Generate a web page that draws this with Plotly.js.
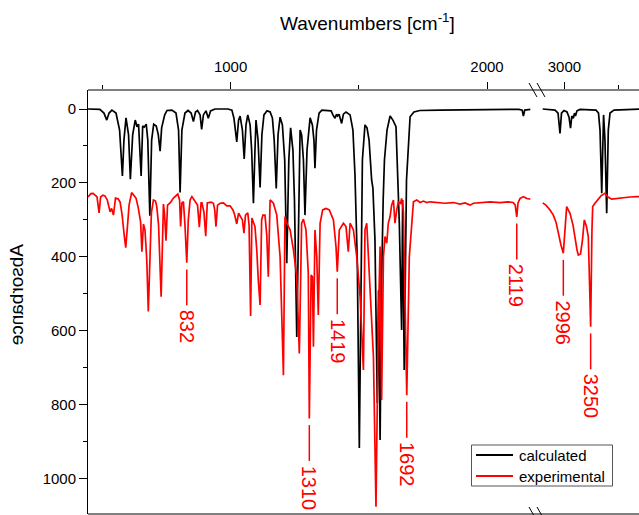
<!DOCTYPE html>
<html>
<head>
<meta charset="utf-8">
<script src="https://cdn.plot.ly/plotly-3.0.1.min.js"></script>
<style>
html,body{margin:0;padding:0;overflow:hidden;background:#fff;width:639px;height:515px;}
#chart{width:680px;height:540px;}
</style>
</head>
<body>
<div id="chart"></div>
<script>
// ---------- data ----------
// calculated spectrum, low-wavenumber segment
const calcWn = [444,490,506,517,526,537,553,567,578,584,592,602,609,618,628,635,641,651,657,663,671,677,685,692,700,710,718,725,731,743,752,771,787,797,803,810,822,834,846,855,863,871,881,887,894,904,913,922,939,990,1005,1013,1024,1031,1037,1046,1053,1060,1067,1076,1082,1089,1095,1099,1107,1115,1122,1130,1142,1154,1163,1170,1178,1185,1193,1202,1211,1219,1227,1234,1243,1249,1258,1265,1271,1277,1284,1290,1298,1310,1319,1325,1329,1335,1345,1356,1380,1392,1399,1407,1413,1417,1423,1433,1440,1450,1466,1477,1485,1494,1502,1509,1514,1524,1532,1540,1550,1555,1563,1572,1577,1583,1589,1595,1600,1610,1622,1633,1645,1658,1667,1671,1677,1686,1692,1700,1715,1738,1817,1973,2125,2137,2142,2147,2170];
const calcAbs = [0,1,11,30,11,3,11,57,181,84,24,70,190,70,30,48,41,181,46,49,41,84,289,84,41,46,70,114,51,16,4,3,11,57,226,57,11,4,11,34,8,4,16,55,16,5,25,5,0,0,3,25,89,30,19,57,135,43,16,43,111,255,111,30,84,212,70,16,5,8,24,84,215,70,22,43,138,417,138,51,111,246,617,246,57,70,138,287,111,24,43,84,160,57,11,3,3,5,16,25,14,19,14,39,14,8,16,57,178,408,917,408,138,43,51,84,192,214,354,795,490,895,463,246,138,57,19,30,48,309,598,246,706,192,129,21,8,4,3,1,1,3,19,3,1];
// calculated spectrum, high-wavenumber segment
const calcWn2 = [2798,2913,2941,2959,2973,2996,3024,3043,3057,3069,3083,3094,3103,3117,3145,3294,3317,3331,3347,3364,3377,3393,3408,3424,3461,3703,4074];
const calcAbs2 = [0,3,11,66,11,4,8,22,52,19,25,11,19,5,1,3,11,57,228,16,84,282,57,11,3,0,0];
// experimental spectrum, low-wavenumber segment
const expWn = [444,455,464,473,479,487,493,502,510,519,530,536,543,551,561,569,577,585,591,598,604,614,623,631,640,649,654,660,666,673,679,686,691,699,707,712,719,729,735,738,742,748,754,764,777,794,801,805,810,816,822,829,835,842,849,861,871,878,885,888,896,903,909,924,933,938,943,949,959,972,985,998,1009,1015,1024,1031,1039,1046,1052,1058,1067,1072,1078,1083,1095,1102,1108,1115,1121,1126,1134,1141,1147,1152,1154,1167,1180,1193,1206,1212,1219,1232,1245,1258,1268,1277,1284,1294,1303,1307,1314,1319,1323,1329,1336,1342,1349,1359,1372,1385,1401,1411,1416,1424,1440,1450,1459,1466,1479,1492,1505,1518,1524,1531,1544,1557,1567,1576,1583,1589,1596,1602,1609,1615,1622,1628,1635,1641,1648,1654,1663,1667,1674,1680,1687,1697,1706,1713,1726,1739,1752,1765,1778,1804,1836,1869,1895,1914,1934,1947,1965,1984,2012,2051,2082,2102,2110,2116,2121,2129,2142,2156,2170];
const expAbs = [238,229,228,235,238,281,238,233,235,246,278,269,287,241,243,252,287,341,375,314,260,226,235,241,268,306,386,311,327,408,548,368,281,246,249,264,314,508,287,257,281,356,260,254,241,230,246,318,254,251,314,416,300,246,237,251,260,320,254,254,279,344,254,252,255,273,318,260,255,254,262,262,273,284,311,282,291,300,336,287,281,314,560,295,318,381,463,530,300,287,287,341,454,260,246,255,287,400,720,291,309,327,381,454,661,309,298,327,444,837,449,454,643,327,400,557,309,273,269,273,300,372,440,327,309,318,386,309,327,400,508,706,327,309,490,670,1076,580,372,787,400,345,363,309,291,260,246,309,273,251,255,242,278,490,774,400,300,251,246,253,249,253,251,253,255,253,257,254,260,255,254,251,251,253,251,253,260,292,254,242,237,242,244];
// experimental spectrum, high-wavenumber segment
const expWn2 = [2798,2829,2866,2897,2922,2945,2968,2990,3006,3021,3036,3052,3080,3099,3117,3129,3150,3168,3185,3205,3222,3233,3244,3256,3263,3284,3315,3340,3377,3405,3440,3486,3548,3610,3672,4074];
const expAbs2 = [254,260,273,287,306,341,368,390,314,264,273,282,314,354,381,395,392,354,300,318,345,463,589,327,264,255,242,235,228,238,244,242,239,238,237,237];
// labelled experimental bands
const peakLabels = [832, 1310, 1419, 1692, 2119, 2996, 3250];
// axis ticks
const xTicksLeft = [1000, 2000];
const xTicksRight = [3000];
const yTicks = [0, 200, 400, 600, 800, 1000];
const seriesNames = ['calculated', 'experimental'];

// ---------- layout constants ----------
const W = 680, H = 540, L = 88, T = 90, B = 26, R = 0;
const PW = W - L - R, PH = H - T - B;
const px = x => (x - L) / PW;          // pixel -> paper x
const py = y => 1 - (y - T) / PH;      // pixel -> paper y
const FONT = 'Liberation Sans, Arial, sans-serif';
const BREAK_WN = 2500;

const black = '#000000', red = '#ff0000';
const colors = [black, red];

const traces = [
  {x: calcWn, y: calcAbs, xaxis: 'x', yaxis: 'y', mode: 'lines', name: seriesNames[0],
   line: {color: black, width: 1.7}, showlegend: false},
  {x: calcWn2, y: calcAbs2, xaxis: 'x2', yaxis: 'y', mode: 'lines', name: seriesNames[0],
   line: {color: black, width: 1.7}, showlegend: false},
  {x: expWn, y: expAbs, xaxis: 'x', yaxis: 'y', mode: 'lines', name: seriesNames[1],
   line: {color: red, width: 1.7}, showlegend: false},
  {x: expWn2, y: expAbs2, xaxis: 'x2', yaxis: 'y', mode: 'lines', name: seriesNames[1],
   line: {color: red, width: 1.7}, showlegend: false}
];

// peak tips found from the experimental data
const allWn = expWn.concat(expWn2), allAbs = expAbs.concat(expAbs2);
const shapes = [], annotations = [];
peakLabels.forEach(lab => {
  let best = -1, bw = lab;
  allWn.forEach((w, i) => { if (Math.abs(w - lab) <= 12 && allAbs[i] > best) { best = allAbs[i]; bw = w; } });
  const xr = lab > BREAK_WN ? 'x2' : 'x';
  shapes.push({type: 'line', xref: xr, yref: 'y', x0: bw, x1: bw, y0: best + 18, y1: best + 115,
               line: {color: red, width: 1.5}});
  annotations.push({xref: xr, yref: 'y', x: bw, y: best + 122, text: String(lab), textangle: 90,
                    showarrow: false, xanchor: 'center', yanchor: 'top',
                    font: {family: FONT, size: 20, color: red}});
});

// frame lines and break marks
const frame = {color: black, width: 1};
shapes.push({type: 'line', xref: 'paper', yref: 'paper', x0: 0, x1: 1, y0: 1, y1: 1, line: frame});
shapes.push({type: 'line', xref: 'paper', yref: 'paper', x0: 0, x1: 1, y0: 0, y1: 0, line: frame});
[[529, 537], [537, 545]].forEach(([a, b]) => {
  shapes.push({type: 'line', xref: 'paper', yref: 'paper', x0: px(a), x1: px(b), y0: py(83), y1: py(97), line: frame});
  shapes.push({type: 'line', xref: 'paper', yref: 'paper', x0: px(a), x1: px(b), y0: py(507), y1: py(521), line: frame});
});

// legend box (drawn to match the reference's compact legend)
shapes.push({type: 'rect', xref: 'paper', yref: 'paper', x0: px(471.5), x1: px(612.5), y0: py(445), y1: py(486),
             line: {color: '#555', width: 1}, fillcolor: '#fff', layer: 'above'});
seriesNames.forEach((nm, i) => {
  const yy = 455 + i * 21;
  shapes.push({type: 'line', xref: 'paper', yref: 'paper', x0: px(476), x1: px(513), y0: py(yy), y1: py(yy),
               line: {color: colors[i], width: 2}, layer: 'above'});
  annotations.push({xref: 'paper', yref: 'paper', x: px(517), y: py(yy), text: nm, showarrow: false,
                    xanchor: 'left', yanchor: 'middle', font: {family: FONT, size: 15, color: black}});
});

annotations.push({xref: 'paper', yref: 'paper', x: px(367.5), y: py(22), text: 'Wavenumbers [cm<sup>-1</sup>]',
                  showarrow: false, xanchor: 'center', yanchor: 'middle', font: {family: FONT, size: 19, color: black}});
annotations.push({xref: 'paper', yref: 'paper', x: px(17), y: py(294), text: 'Absorbance', textangle: 90,
                  showarrow: false, xanchor: 'center', yanchor: 'middle', font: {family: FONT, size: 19, color: black}});

const xCommon = {
  side: 'top', anchor: 'y', showgrid: false, zeroline: false, showline: false,
  ticks: 'outside', ticklen: 7, tickwidth: 1, tickcolor: black, ticklabelstandoff: 4,
  tickfont: {family: FONT, size: 15, color: black}
};
const minorX = {ticks: 'outside', ticklen: 4, tickwidth: 1, tickcolor: black, tickmode: 'array'};

const layout = {
  width: W, height: H,
  margin: {l: L, r: R, t: T, b: B, pad: 0},
  paper_bgcolor: '#fff', plot_bgcolor: '#fff',
  font: {family: FONT, size: 15, color: black},
  showlegend: false,
  xaxis: Object.assign({}, xCommon, {domain: [0, px(530.5)], range: [443.8, 2169.6],
           tickmode: 'array', tickvals: xTicksLeft, ticktext: xTicksLeft.map(String),
           minor: Object.assign({}, minorX, {tickvals: [500, 1500]})}),
  xaxis2: Object.assign({}, xCommon, {domain: [px(541), 1], range: [2782.5, 4074.4],
           tickmode: 'array', tickvals: xTicksRight, ticktext: xTicksRight.map(String),
           minor: Object.assign({}, minorX, {tickvals: [3500]})}),
  yaxis: {range: [1095.5, -51.4], showgrid: false, zeroline: false, showline: true, linecolor: black, linewidth: 1,
          ticks: 'outside', ticklen: 8, tickwidth: 1, tickcolor: black,
          tickmode: 'array', tickvals: yTicks, ticktext: yTicks.map(String),
          tickfont: {family: FONT, size: 15, color: black},
          minor: {tickmode: 'array', tickvals: [100, 300, 500, 700, 900], ticks: 'outside', ticklen: 4, tickwidth: 1, tickcolor: black}},
  shapes: shapes,
  annotations: annotations
};

Plotly.newPlot('chart', traces, layout, {staticPlot: true, displayModeBar: false}).then(() => {
  document.querySelectorAll('.annotation').forEach(g => {
    if (g.textContent === 'Absorbance') {
      g.style.transformBox = 'fill-box';
      g.style.transformOrigin = 'center';
      g.style.transform = 'scaleX(-1)';
    }
  });
});
</script>
</body>
</html>
